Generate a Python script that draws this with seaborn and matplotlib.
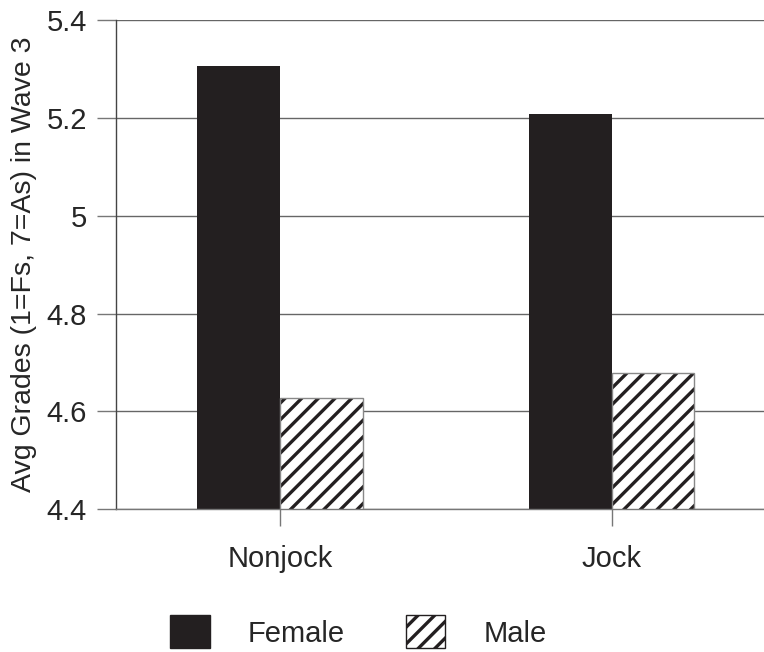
import numpy as np
import pandas as pd
import matplotlib
import matplotlib.pyplot as plt
import seaborn as sns
from matplotlib.patches import Patch

matplotlib.use("Agg")

categories = ["Nonjock", "Jock"]
groups = ["Female", "Male"]
female = [5.306, 5.208]
male = [4.627, 4.678]
yticks = [4.4, 4.6, 4.8, 5.0, 5.2, 5.4]
ytick_labels = ["4.4", "4.6", "4.8", "5", "5.2", "5.4"]


def main():
    sns.set_theme(style="white")
    plt.rcParams["font.family"] = ["Liberation Sans", "DejaVu Sans"]
    plt.rcParams["hatch.linewidth"] = 2.4

    df = pd.DataFrame({
        "group": np.repeat(categories, 2),
        "sex": groups * len(categories),
        "grade": [v for pair in zip(female, male) for v in pair],
    })

    fig = plt.figure(figsize=(7.64, 6.52), dpi=100)
    ax = fig.add_axes([0.152, 0.219, 0.848, 0.750])
    palette = {"Female": "#231f20", "Male": "white"}
    sns.barplot(data=df, x="group", y="grade", hue="sex", order=categories,
                hue_order=groups, palette=palette, width=0.5, ax=ax,
                legend=False, saturation=1)

    for bar in ax.containers[0]:
        bar.set_edgecolor("none")
    for bar in ax.containers[1]:
        bar.set_hatch("//")
        bar.set_edgecolor("#231f20")
        bar.set_linewidth(0)
    # thin grey outline on hatched bars
    for bar in ax.containers[1]:
        x, y = bar.get_xy()
        ax.add_patch(plt.Rectangle((x, y), bar.get_width(), bar.get_height(),
                                   fill=False, edgecolor="#888888", lw=1, zorder=3))

    ax.set_ylim(4.4, 5.4)
    ax.set_xlim(-0.495, 1.46)
    ax.set_yticks(yticks)
    ax.set_yticklabels(ytick_labels)
    ax.yaxis.grid(True, color="#666666", lw=1)
    ax.set_axisbelow(True)

    for s in ["top", "right"]:
        ax.spines[s].set_visible(False)
    ax.spines["left"].set_color("#444444")
    ax.spines["bottom"].set_color("#777777")
    ax.spines["left"].set_linewidth(1)
    ax.spines["bottom"].set_linewidth(1)

    ax.tick_params(axis="y", length=14, width=1, color="#777777", pad=7,
                   labelsize=21, left=True)
    ax.tick_params(axis="x", length=12, width=1, color="#777777", pad=14,
                   labelsize=21, bottom=True, direction="out")
    ax.set_xlabel("")
    ax.set_ylabel("Avg Grades (1=Fs, 7=As) in Wave 3", fontsize=20.5)
    ax.yaxis.set_label_coords(-0.122, 0.5)

    handles = [Patch(facecolor="#231f20", edgecolor="#231f20"),
               Patch(facecolor="white", edgecolor="#231f20", hatch="//", lw=0)]
    leg = fig.legend(handles, groups, loc="center", bbox_to_anchor=(0.469, 0.031),
                     ncol=2, frameon=False, fontsize=21, handlelength=1.35,
                     handleheight=1.35, handletextpad=1.3, columnspacing=2.1)
    # grey outline round the hatched key
    leg.legend_handles[1].set_linewidth(1)

    fig.savefig("out.png", dpi=100)


if __name__ == "__main__":
    main()
